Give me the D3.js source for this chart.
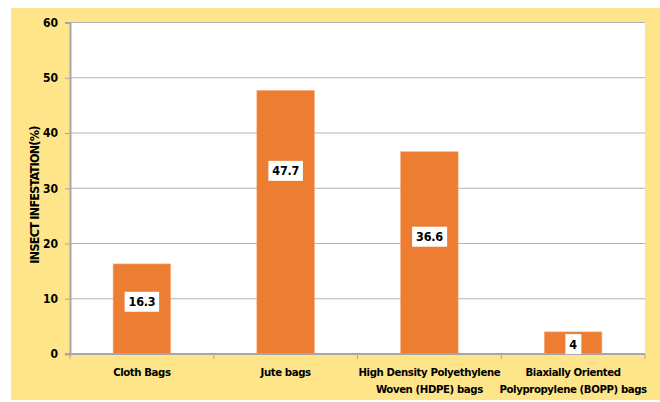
<!DOCTYPE html>
<html>
<head>
<meta charset="utf-8">
<script src="https://cdn.jsdelivr.net/npm/d3@7"></script>
<style>
  html, body { margin: 0; padding: 0; background: #ffffff; }
  svg { display: block; }
  text { font-family: "Liberation Sans Narrow", "Arial Narrow", "DejaVu Sans Condensed", sans-serif; font-weight: bold; fill: #000; }
</style>
</head>
<body>
<svg id="chart" width="660" height="402"></svg>
<script>
// Insect infestation by storage bag type
const categories = [
  ["Cloth Bags"],
  ["Jute bags"],
  ["High Density Polyethylene", "Woven (HDPE) bags"],
  ["Biaxially Oriented", "Polypropylene (BOPP) bags"]
];
const infestation = [16.3, 47.7, 36.6, 4];
const yTicks = [0, 10, 20, 30, 40, 50, 60];
const yTitle = "INSECT INFESTATION(%)";

const frame = { left: 11, top: 8, right: 660, bottom: 400 };
const plot = { left: 70, top: 22.5, right: 645, bottom: 354 };

const svg = d3.select("#chart");

// yellow chart frame and white plot area
svg.append("rect")
  .attr("x", frame.left).attr("y", frame.top)
  .attr("width", frame.right - frame.left).attr("height", frame.bottom - frame.top)
  .attr("fill", "#FEE589");
svg.append("rect")
  .attr("x", plot.left).attr("y", plot.top)
  .attr("width", plot.right - plot.left).attr("height", plot.bottom - plot.top)
  .attr("fill", "#ffffff");

const keys = categories.map(c => c.join(" "));
const x = d3.scaleBand().domain(keys).range([plot.left, plot.right]).paddingInner(0.6).paddingOuter(0.3);
const y = d3.scaleLinear().domain([0, 60]).range([plot.bottom, plot.top]);

// horizontal gridlines
svg.append("g")
  .selectAll("line")
  .data(yTicks.filter(t => t > 0))
  .join("line")
  .attr("x1", plot.left).attr("x2", plot.right)
  .attr("y1", d => y(d)).attr("y2", d => y(d))
  .attr("stroke", "#B3B3B3").attr("stroke-width", 1);

// bars
svg.append("g")
  .selectAll("rect")
  .data(infestation)
  .join("rect")
  .attr("x", (d, i) => x(keys[i]))
  .attr("width", x.bandwidth())
  .attr("y", d => y(d))
  .attr("height", d => y(0) - y(d))
  .attr("fill", "#ED7D31")
  .attr("stroke", "#F4A977").attr("stroke-width", 0.6);

// y axis
const yAxis = d3.axisLeft(y).tickValues(yTicks).tickSize(5).tickPadding(7).tickFormat(d3.format("d"));
const gy = svg.append("g").attr("transform", `translate(${plot.left},0)`).call(yAxis);
gy.select(".domain").attr("stroke", "#A6A6A6").attr("stroke-width", 2);
gy.selectAll(".tick line").attr("stroke", "#A6A6A6");
gy.selectAll(".tick text").attr("font-size", 12).attr("font-family", null).attr("fill", "#000");

// x axis: baseline with ticks at category boundaries
const bounds = d3.range(categories.length + 1).map(i => plot.left + i * (plot.right - plot.left) / categories.length);
const gx = svg.append("g");
gx.append("line")
  .attr("x1", plot.left - 5).attr("x2", plot.right)
  .attr("y1", y(0)).attr("y2", y(0))
  .attr("stroke", "#A6A6A6").attr("stroke-width", 2);
gx.selectAll("line.tk")
  .data(bounds)
  .join("line").attr("class", "tk")
  .attr("x1", d => d).attr("x2", d => d)
  .attr("y1", y(0)).attr("y2", y(0) + 5)
  .attr("stroke", "#A6A6A6").attr("stroke-width", 1);

// category labels (wrapped on two lines where needed)
const catLabels = gx.selectAll("text.cat")
  .data(categories)
  .join("text").attr("class", "cat")
  .attr("text-anchor", "middle")
  .attr("font-size", 11.3)
  .attr("letter-spacing", -0.4)
  .attr("y", 376);
catLabels.each(function(lines, i) {
  const cx = x(keys[i]) + x.bandwidth() / 2;
  d3.select(this).selectAll("tspan")
    .data(lines)
    .join("tspan")
    .attr("x", cx)
    .attr("dy", (d, j) => j === 0 ? 0 : 17)
    .text(d => d);
});

// value labels inside the bars, in white boxes
const labelFrac = [0.58, 0.695, 0.58, 0.45];
const vl = svg.append("g")
  .selectAll("g")
  .data(infestation)
  .join("g")
  .attr("transform", (d, i) => `translate(${x(keys[i]) + x.bandwidth() / 2},${y(d * labelFrac[i])})`);
vl.append("text")
  .attr("text-anchor", "middle")
  .attr("dy", "0.36em")
  .attr("font-size", 12.5)
  .attr("letter-spacing", -0.3)
  .text(d => String(d));
vl.each(function() {
  const g = d3.select(this);
  const bb = g.select("text").node().getBBox();
  g.insert("rect", "text")
    .attr("x", bb.x - 4).attr("y", -10)
    .attr("width", bb.width + 8).attr("height", 20)
    .attr("fill", "#ffffff");
});

// y axis title
svg.append("text")
  .attr("transform", `translate(39,195) rotate(-90)`)
  .attr("text-anchor", "middle")
  .attr("font-size", 12.5)
  .attr("letter-spacing", -0.75)
  .text(yTitle);
</script>
</body>
</html>
